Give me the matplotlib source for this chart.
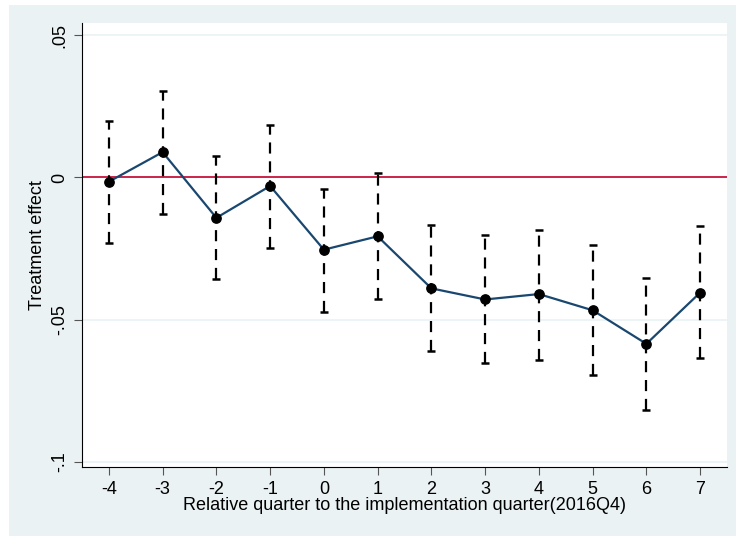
import matplotlib.pyplot as plt
from matplotlib.patches import Rectangle

plt.rcParams['font.family'] = ['Liberation Sans', 'DejaVu Sans']

# Relative quarter to 2016Q4 and estimated effects with CI bounds
quarters = [-4, -3, -2, -1, 0, 1, 2, 3, 4, 5, 6, 7]
effect = [-0.0015, 0.0089, -0.0142, -0.0030, -0.0254, -0.0207,
          -0.0390, -0.0429, -0.0410, -0.0467, -0.0585, -0.0405]
ci_upper = [0.0199, 0.0304, 0.0074, 0.0186, -0.0039, 0.0017,
            -0.0168, -0.0203, -0.0184, -0.0236, -0.0355, -0.0171]
ci_lower = [-0.0230, -0.0127, -0.0357, -0.0249, -0.0473, -0.0429,
            -0.0609, -0.0654, -0.0642, -0.0693, -0.0818, -0.0635]
y_ticks = [0.05, 0, -0.05, -0.1]
y_tick_labels = ['.05', '0', '-.05', '-.1']

bg = '#eaf2f3'
fig = plt.figure(figsize=(7.36, 5.36), dpi=100, facecolor='white')
fig.patches.append(Rectangle((9 / 736, 0), 1, 1 - 5 / 536, transform=fig.transFigure,
                             facecolor=bg, edgecolor='none', zorder=-10))
ax = fig.add_axes([82 / 736, 1 - 467 / 536, (727 - 82) / 736, (467 - 23) / 536])
ax.set_facecolor('white')

for yt in y_ticks:
    ax.axhline(yt, color=bg, linewidth=1.2, zorder=0)
ax.axhline(0, color='#c8143c', linewidth=1.3, zorder=1)

# dashed error bars with solid caps
ax.vlines(quarters, ci_lower, ci_upper, colors='black', linestyles=(0, (5, 3.5)),
          linewidth=1.6, zorder=2)
ax.scatter(quarters, ci_upper, marker='_', s=40, color='black', linewidths=1.8, zorder=2)
ax.scatter(quarters, ci_lower, marker='_', s=40, color='black', linewidths=1.8, zorder=2)

ax.plot(quarters, effect, color='#1a476f', linewidth=1.6, zorder=3)
ax.scatter(quarters, effect, s=45, color='black', zorder=4)

ax.set_xlim(-4.5, 7.5)
ax.set_ylim(-0.1018, 0.0543)
ax.set_xticks(quarters)
ax.set_xticklabels([str(q) for q in quarters])
ax.set_yticks(y_ticks)
ax.set_yticklabels(y_tick_labels, rotation=90, va='center')

for side in ['top', 'right']:
    ax.spines[side].set_visible(False)
ax.spines['left'].set_color('black')
ax.spines['bottom'].set_color('black')
ax.tick_params(axis='both', direction='out', length=6, color='#555555',
               labelsize=13, pad=4)

ax.set_xlabel('Relative quarter to the implementation quarter(2016Q4)', fontsize=13, labelpad=-1)
ax.set_ylabel('Treatment effect', fontsize=13, labelpad=4)

fig.savefig('out.png', dpi=100, facecolor=fig.get_facecolor())
